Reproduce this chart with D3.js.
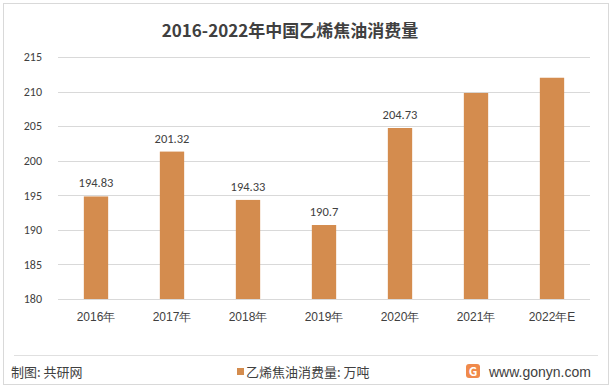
<!DOCTYPE html>
<html><head><meta charset="utf-8">
<script src="https://cdn.jsdelivr.net/npm/d3@7"></script>
<style>body{margin:0;background:#fff;}svg{display:block;font-family:"Microsoft YaHei","Noto Sans CJK SC",sans-serif;}</style>
</head><body><svg id="c" width="612" height="392"></svg>
<script>
const categories = ["2016年","2017年","2018年","2019年","2020年","2021年","2022年E"];
const values = [194.83, 201.32, 194.33, 190.7, 204.73, 209.8, 212.0];
const labels = ["194.83","201.32","194.33","190.7","204.73","",""];
const yTicks = [180,185,190,195,200,205,210,215];
const title = "2016-2022年中国乙烯焦油消费量";
const legendText = "乙烯焦油消费量: 万吨";
const sourceText = "制图: 共研网";
const siteText = "www.gonyn.com";

const svg = d3.select("#c");
const color = "#D48C4E";
svg.append("rect").attr("x",3.5).attr("y",3.5).attr("width",605).attr("height",381)
  .attr("fill","#fff").attr("stroke","#d9d9d9");

const x = d3.scaleBand().domain(categories).range([58,590]).paddingInner(0.68).paddingOuter(0.34);
const y = d3.scaleLinear().domain([180,215]).range([299,57]);

svg.append("g").selectAll("line").data(yTicks).join("line")
  .attr("x1",58).attr("x2",590).attr("y1",d=>Math.round(y(d))+0.5).attr("y2",d=>Math.round(y(d))+0.5)
  .attr("stroke","#d9d9d9");

const yAxis = svg.append("g").attr("transform","translate(58,0)")
  .call(d3.axisLeft(y).tickValues(yTicks).tickSize(0).tickPadding(16));
yAxis.select(".domain").remove();
yAxis.selectAll("text").attr("font-size",12).attr("fill","#404040").attr("font-family","Calibri,'Liberation Sans','Noto Sans',sans-serif");

svg.append("g").selectAll("rect").data(values).join("rect")
  .attr("x",(d,i)=>x(categories[i])).attr("width",x.bandwidth())
  .attr("y",d=>y(d)).attr("height",d=>y(180)-y(d)).attr("fill",color);

svg.append("g").selectAll("text").data(values).join("text")
  .attr("x",(d,i)=>x(categories[i])+x.bandwidth()/2).attr("y",d=>y(d)-9)
  .attr("text-anchor","middle").attr("font-size",12.5).attr("fill","#404040")
  .attr("font-family","Calibri,'Liberation Sans','Noto Sans',sans-serif")
  .text((d,i)=>labels[i]);

const xAxis = svg.append("g").attr("transform","translate(0,299)")
  .call(d3.axisBottom(x).tickSize(0).tickPadding(13));
xAxis.select(".domain").remove();
xAxis.selectAll("text").attr("font-size",12).attr("fill","#404040");

svg.append("text").attr("x",290).attr("y",37).attr("text-anchor","middle")
  .attr("font-size",17).attr("font-weight","bold").attr("fill","#404040").text(title);

svg.append("line").attr("x1",14).attr("x2",598).attr("y1",355.5).attr("y2",355.5).attr("stroke","#e0e0e0");
svg.append("text").attr("x",11).attr("y",377).attr("font-size",13).attr("fill","#404040").text(sourceText);
svg.append("rect").attr("x",237).attr("y",368).attr("width",7).attr("height",7).attr("fill",color);
svg.append("text").attr("x",246).attr("y",377).attr("font-size",13).attr("fill","#404040").text(legendText);
// logo
const lg = svg.append("g").attr("transform","translate(466,364)");
lg.append("rect").attr("width",14).attr("height",14).attr("rx",3).attr("fill","#F08A4B");
lg.append("text").attr("x",7).attr("y",11.5).attr("text-anchor","middle").attr("font-size",12).attr("font-weight","bold").attr("fill","#fff").text("G");
svg.append("text").attr("x",489).attr("y",377).attr("font-size",14).attr("fill","#404040")
  .attr("font-family","'Liberation Sans','Noto Sans',sans-serif").text(siteText);
</script></body></html>
